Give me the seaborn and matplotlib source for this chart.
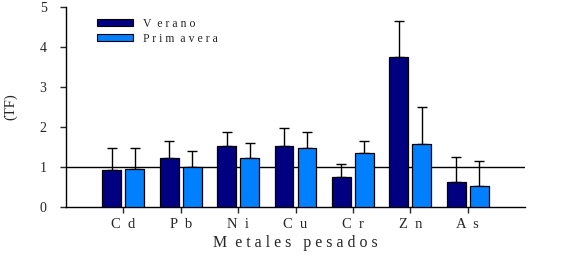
import numpy as np
import pandas as pd
import seaborn as sns
import matplotlib.pyplot as plt
from matplotlib.patches import Patch

# data
metales = ["Cd", "Pb", "Ni", "Cu", "Cr", "Zn", "As"]
verano = [0.93, 1.22, 1.52, 1.52, 0.74, 3.74, 0.62]
verano_err = [0.55, 0.44, 0.36, 0.45, 0.33, 0.92, 0.62]
primavera = [0.95, 1.00, 1.22, 1.47, 1.34, 1.57, 0.52]
primavera_err = [0.53, 0.41, 0.39, 0.41, 0.32, 0.92, 0.62]
estaciones = ["Verano", "Primavera"]
colores = ["#000080", "#0080ff"]

df = pd.DataFrame({
    "metal": metales * 2,
    "tf": verano + primavera,
    "estacion": ["Verano"] * len(metales) + ["Primavera"] * len(metales),
})

sns.set_style("white")
plt.rcParams["font.family"] = ["Liberation Serif", "DejaVu Serif"]

fig = plt.figure(figsize=(5.7, 2.57), dpi=100)
ax = fig.add_axes([66 / 570, 1 - 207 / 257, (525 - 66) / 570, 200 / 257])

sns.barplot(data=df, x="metal", y="tf", hue="estacion", hue_order=estaciones,
            palette=colores, saturation=1, width=0.8, gap=0.175,
            edgecolor="black", linewidth=0.9, legend=False, ax=ax, zorder=3)

# upward error bars from bar centres
errs = verano_err + primavera_err
vals = verano + primavera
for p, v, e in zip(ax.patches, vals, errs):
    cx = p.get_x() + p.get_width() / 2
    ax.errorbar(cx, v, yerr=[[0], [e]], fmt="none", ecolor="black",
                elinewidth=1, capsize=3.5, capthick=1, zorder=2)

ax.axhline(1, color="black", lw=1, zorder=1)
ax.set_xlim(-1, 7)
ax.set_ylim(0, 5)
ax.set_yticks(range(6))
ax.set_xticks(range(len(metales)))
ax.set_xticklabels(["  ".join(m) for m in metales], fontsize=10.5)
ax.tick_params(axis="y", labelsize=10, direction="out", length=4, width=1,
               left=True, pad=10)
ax.tick_params(axis="x", direction="out", length=4, width=1, bottom=True, pad=4)
sns.despine(ax=ax)
for s in ["left", "bottom"]:
    ax.spines[s].set_color("black")
    ax.spines[s].set_linewidth(1)

ax.set_xlabel("M  e t a l e s   p e s a d o s", fontsize=11.5, labelpad=3)
ax.set_ylabel("(TF)", fontsize=10.5, labelpad=16)

handles = [Patch(facecolor=c, edgecolor="black", linewidth=0.8) for c in colores]
ax.legend(handles, ["V  e r a n o", "P r i m  a v e r a"], loc="upper left",
          bbox_to_anchor=(0.045, 1.0), frameon=False, fontsize=8.5,
          handlelength=3.0, handleheight=0.55, labelspacing=0.25,
          handletextpad=0.9)

fig.savefig("out.png", dpi=100)
